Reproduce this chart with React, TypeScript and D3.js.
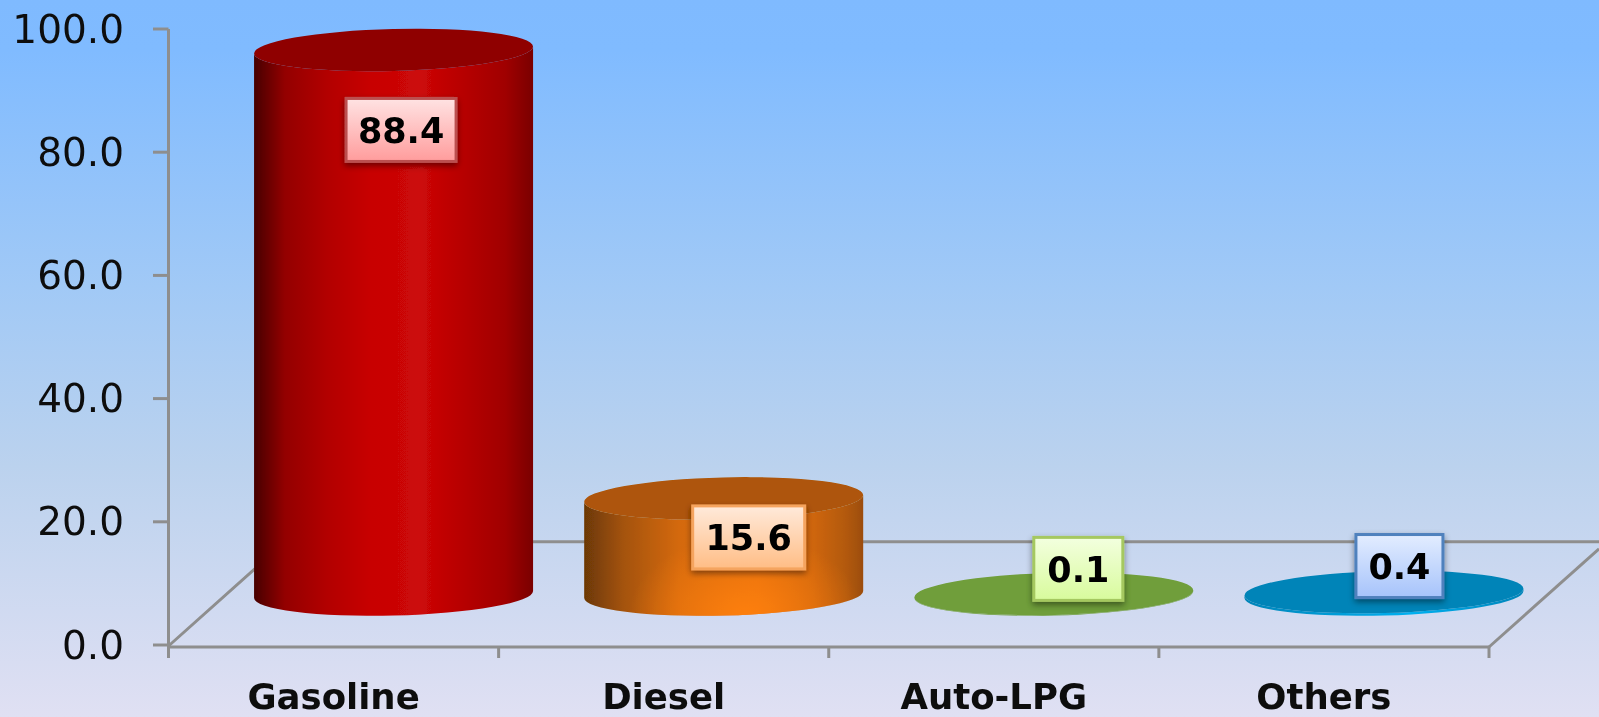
import React from "react";
import * as d3 from "d3";

const categories = ["Gasoline", "Diesel", "Auto-LPG", "Others"];
const values = [88.4, 15.6, 0.1, 0.4];
const valueLabels = ["88.4", "15.6", "0.1", "0.4"];
const yTicks = [0, 20, 40, 60, 80, 100];

const W = 1599, H = 717;
const AXIS = "#8e8e8e";
const FONT = "'DejaVu Sans', Verdana, sans-serif";
const y = d3.scaleLinear().domain([0, 100]).range([645, 29]);
const x = d3.scaleBand().domain(categories).range([168.5, 1489]).paddingInner(0).paddingOuter(0);
const DEPTH_X = 60, DEPTH_Y = 50.5, BACK_Y = 541.7, RY = 21, TILT = 3.5, SLANT = 1.12;
const CYL_W = 279;
const bandEdges = [...categories.map((c) => x(c)!), 1489];

const sideStops: [number, string][][] = [
  [[0, "#470000"], [0.11, "#930000"], [0.26, "#b20000"], [0.42, "#c80404"], [0.6, "#cc0808"], [0.74, "#b80000"], [0.9, "#a00000"], [1, "#7a0000"]],
  [[0, "#6b3806"], [0.14, "#a4530a"], [0.34, "#d4690c"], [0.62, "#e46f0d"], [0.82, "#cf660b"], [0.94, "#b2590a"], [1, "#9c4d08"]],
  [[0, "#6f9e3a"], [1, "#6f9e3a"]],
  [[0, "#0284b8"], [0.6, "#00b0f0"], [1, "#0284b8"]],
];
const topColors = ["#8f0000", "#ae5407", "#6f9e3a", "#0284b8"];
const labelFills = [["#ffe3e3", "#ff9c9c"], ["#ffeadb", "#ffbd85"], ["#f3ffdf", "#d8fb9c"], ["#e3edff", "#a6c3fb"]];
const labelStrokes = ["#bb5050", "#f5a45f", "#a5c860", "#4f81bd"];
const labelBox: { dx: number; dy: number; w: number }[] = [
  { dx: 7.5, dy: 80, w: 110 },
  { dx: 25, dy: 39, w: 112 },
  { dx: 24.5, dy: -25, w: 89 },
  { dx: 15.5, dy: -26, w: 87 },
];
const LABEL_H = 63;

function cylinderSide(cx: number, top: number, base: number) {
  const l = cx - CYL_W / 2, r = cx + CYL_W / 2;
  const rot = (-Math.atan((2 * TILT) / CYL_W) * 180) / Math.PI;
  return `M${l},${top + TILT}L${l},${base + TILT}A${CYL_W / 2},${RY} ${rot} 0 0 ${r},${base - TILT}L${r},${top - TILT}A${CYL_W / 2},${RY} ${rot} 0 1 ${l},${top + TILT}Z`;
}

export default function App() {
  const back = d3.path();
  back.moveTo(168.5, 646);
  back.lineTo(168.5 + (646 - BACK_Y) * SLANT, BACK_Y);
  back.lineTo(W, BACK_Y);
  const right = d3.path();
  right.moveTo(1489, 647);
  right.lineTo(W, 647 - (W - 1489) / SLANT);

  return (
    <svg width={W} height={H} viewBox={`0 0 ${W} ${H}`} style={{ position: "fixed", left: 0, top: 0, display: "block" }}>
      <defs>
        <linearGradient id="bg" x1="0" y1="0" x2="0" y2="1">
          <stop offset="0" stopColor="#7fbaff" />
          <stop offset="0.07" stopColor="#80bbff" />
          <stop offset="0.4" stopColor="#a1c9f6" />
          <stop offset="0.65" stopColor="#bbd2ee" />
          <stop offset="1" stopColor="#e0e0f3" />
        </linearGradient>
        {sideStops.map((stops, i) => (
          <linearGradient key={i} id={`side${i}`} x1="0" y1="0" x2="1" y2="0">
            {stops.map(([o, c], j) => <stop key={j} offset={o} stopColor={c} />)}
          </linearGradient>
        ))}
        <radialGradient id="glow" cx="0.58" cy="1" r="0.42" gradientTransform="translate(0.58 1) scale(1 1.6) translate(-0.58 -1)">
          <stop offset="0" stopColor="#ff8010" stopOpacity="0.95" />
          <stop offset="1" stopColor="#ff8010" stopOpacity="0" />
        </radialGradient>
        {labelFills.map(([a, b], i) => (
          <linearGradient key={i} id={`lab${i}`} x1="0" y1="0" x2="0" y2="1">
            <stop offset="0" stopColor={a} />
            <stop offset="1" stopColor={b} />
          </linearGradient>
        ))}
        <filter id="shadow" x="-20%" y="-20%" width="140%" height="150%">
          <feDropShadow dx="0" dy="3" stdDeviation="3" floodColor="#000" floodOpacity="0.45" />
        </filter>
        <filter id="soft" x="-2%" y="-2%" width="104%" height="104%">
          <feGaussianBlur stdDeviation="0.55" />
        </filter>
      </defs>
      <rect width={W} height={H} fill="url(#bg)" />
      <g filter="url(#soft)">
        <g fill="none" stroke={AXIS} strokeWidth={3}>
          <path d={back.toString()} />
          <path d={right.toString()} />
          <line x1={168.5} x2={168.5} y1={y(100)} y2={658} />
          <line x1={168.5} x2={1489} y1={647} y2={647} />
          {yTicks.map((t) => <line key={t} x1={153} x2={168.5} y1={y(t)} y2={y(t)} />)}
          {bandEdges.slice(1).map((e, i) => <line key={i} x1={e} x2={e} y1={647} y2={658} />)}
        </g>
        {yTicks.map((t) => (
          <text key={t} x={124} y={y(t) + 3} textAnchor="end" dominantBaseline="middle" fontFamily={FONT} fontSize={39} fill="#111">
            {d3.format(".1f")(t)}
          </text>
        ))}
        {categories.map((c) => (
          <text key={c} x={x(c)! + x.bandwidth() / 2} y={708.5} textAnchor="middle" fontFamily={FONT} fontWeight="bold" fontSize={35.5} fill="#111">
            {c}
          </text>
        ))}
        {categories.map((c, i) => {
          const cx = x(c)! + x.bandwidth() / 2 + DEPTH_X;
          const base = y(0) - DEPTH_Y;
          const top = y(values[i]) - DEPTH_Y;
          const rot = (-Math.atan((2 * TILT) / CYL_W) * 180) / Math.PI;
          return (
            <g key={c}>
              <path d={cylinderSide(cx, top, base)} fill={`url(#side${i})`} />
              {i === 1 && <path d={cylinderSide(cx, top, base)} fill="url(#glow)" />}
              <ellipse cx={cx} cy={top} rx={CYL_W / 2} ry={RY} fill={topColors[i]} transform={`rotate(${rot} ${cx} ${top})`} />
            </g>
          );
        })}
        {categories.map((c, i) => {
          const cx = x(c)! + x.bandwidth() / 2 + DEPTH_X;
          const top = y(values[i]) - DEPTH_Y;
          const b = labelBox[i];
          const lx = cx + b.dx, ly = top + b.dy;
          return (
            <g key={c}>
              <rect x={lx - b.w / 2} y={ly - LABEL_H / 2} width={b.w} height={LABEL_H} fill={`url(#lab${i})`} stroke={labelStrokes[i]} strokeWidth={3} filter="url(#shadow)" />
              <text x={lx} y={ly + 3} textAnchor="middle" dominantBaseline="middle" fontFamily={FONT} fontWeight="bold" fontSize={35} fill="#000">
                {valueLabels[i]}
              </text>
            </g>
          );
        })}
      </g>
    </svg>
  );
}
